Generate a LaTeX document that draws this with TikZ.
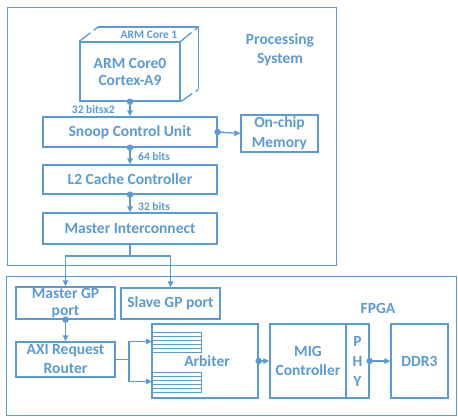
\documentclass[tikz,border=0pt]{standalone}
\usepackage{fontspec}
\setmainfont{Carlito}
\usetikzlibrary{arrows.meta}
\definecolor{ob}{RGB}{91,155,213}
\begin{document}
\begin{tikzpicture}[x=1pt,y=-1pt,
  box/.style={draw=ob, line width=1.3pt, fill=white, inner sep=0pt, align=center,
    text=ob, font=\bfseries\fontsize{15.5}{19}\selectfont},
  lbl/.style={text=ob, font=\bfseries\fontsize{15.5}{19}\selectfont, align=center, inner sep=0pt},
  small/.style={text=ob, font=\bfseries\fontsize{11.5}{13}\selectfont, inner sep=0pt},
  wire/.style={draw=ob, line width=1.3pt},
  conn/.style={draw=ob, line width=1.3pt, -{Triangle[length=6pt,width=5.5pt]}},
  dot/.style={circle, fill=ob, inner sep=0pt, minimum size=6.5pt},
  queue/.style={draw=ob, line width=0.9pt},
]
\useasboundingbox (0,0) rectangle (458,417);

% containers
\node[box, minimum width=329, minimum height=258, anchor=north west] (ps) at (7,7) {};
\node[lbl] (pslbl) at (280,49.5) {Processing\\System};
\node[box, minimum width=450, minimum height=139, anchor=north west] (fpga) at (6,276) {};
\node[lbl] (fpgalbl) at (378,308) {FPGA};

% ARM cores (cube)
\node[draw=none, minimum width=100, minimum height=62, anchor=north west] (core1) at (98,27) {};
\node[box, minimum width=100, minimum height=59, font=\bfseries\fontsize{15.5}{17}\selectfont] (core0) at (130,71.5) {ARM Core0\\Cortex-A9};
\draw[wire] (core1.north west) -- (core1.north east) -- (core1.south east);
\draw[wire, dash pattern=on 14pt off 4pt on 6pt off 10pt] (core0.north west) -- (core1.north west);
\draw[wire, dash pattern=on 14pt off 4pt on 6pt off 10pt] (core0.north east) -- (core1.north east);
\draw[wire, dash pattern=on 14pt off 4pt on 6pt off 10pt] (core0.south east) -- (core1.south east);
\node[small] (c1lbl) at (149,35) {ARM Core 1};

% PS blocks
\node[box, minimum width=174, minimum height=30] (scu) at (130,132) {Snoop Control Unit};
\node[box, minimum width=77, minimum height=37, font=\bfseries\fontsize{15.5}{20}\selectfont] (ocm) at (279.5,133.5) {On-chip\\Memory};
\node[box, minimum width=174, minimum height=29] (l2) at (130,179.5) {L2 Cache Controller};
\node[box, minimum width=174, minimum height=31] (mi) at (130,228.5) {Master Interconnect};

\node[dot] (d1) at (core0.south) {};
\draw[conn] (d1.center) -- (scu.north);
\node[small, anchor=east] (w1) at (115,110) {32 bitsx2};
\node[dot] (d2) at (scu.east) {};
\draw[conn] (d2.center) -- (ocm.west);
\node[dot] (d3) at (scu.south) {};
\draw[conn] (d3.center) -- (l2.north);
\node[small, anchor=west] (w2) at (138,157) {64 bits};
\node[dot] (d4) at (l2.south) {};
\draw[conn] (d4.center) -- (mi.north);
\node[small, anchor=west] (w3) at (138,207) {32 bits};

% FPGA blocks
\node[box, minimum width=99, minimum height=32, font=\bfseries\fontsize{15.5}{17}\selectfont] (mgp) at (65.5,303) {Master GP\\port};
\node[box, minimum width=99, minimum height=31] (sgp) at (170.5,303.5) {Slave GP port};
\node[box, minimum width=99, minimum height=35] (axi) at (65.5,359.5) {AXI Request\\Router};
\node[box, minimum width=106, minimum height=74] (arb) at (205,361) {};
\node[box, minimum width=76, minimum height=74] (mig) at (308,361) {MIG\\Controller};
\node[box, minimum width=23, minimum height=74, font=\bfseries\fontsize{15.5}{20}\selectfont] (phy) at (357.5,361) {P\\H\\Y};
\node[box, minimum width=57, minimum height=74] (ddr) at (419.5,361) {DDR3};

% queues in arbiter
\node[queue, minimum width=49, minimum height=20, inner sep=0pt, anchor=north west] (q1) at (152,332) {};
\node[queue, minimum width=49, minimum height=20, inner sep=0pt, anchor=north west] (q2) at (152,372) {};
\foreach \k in {4,8,12,16} {
  \draw[queue] ([yshift=-\k pt]q1.north west) -- ([yshift=-\k pt]q1.north east);
  \draw[queue] ([yshift=-\k pt]q2.north west) -- ([yshift=-\k pt]q2.north east);
}
\node[lbl, anchor=east] (arblbl) at (230,361) {Arbiter};

% connections
\coordinate (j) at (130,256);
\draw[wire] (mi.south) -- (j);
\draw[conn] (j) -| (mgp.north);
\draw[conn] (j) -| (sgp.north);
\node[dot] (d5) at (mgp.south) {};
\draw[conn] (d5.center) -- (axi.north);
\coordinate (sp) at (129,359.5);
\draw[wire] (axi.east) -- (sp);
\draw[conn] (sp) |- ([yshift=1pt]q1.west);
\draw[conn] (sp) |- ([yshift=1pt]q2.west);
\node[dot] (d6) at (arb.east) {};
\draw[conn] (d6.center) -- (mig.west);
\node[dot] (d7) at (phy.east) {};
\draw[conn] (d7.center) -- (ddr.west);
\end{tikzpicture}
\end{document}
